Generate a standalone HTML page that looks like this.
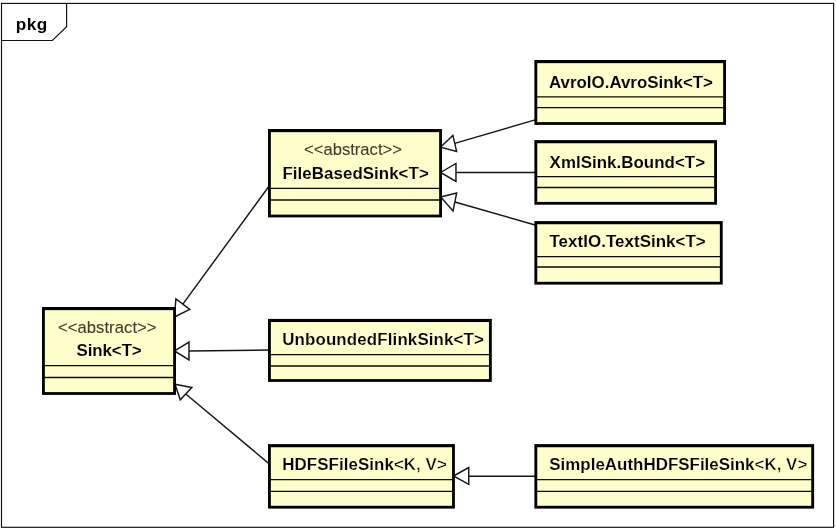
<!DOCTYPE html>
<html>
<head>
<meta charset="utf-8">
<title>pkg</title>
<style>
html,body{margin:0;padding:0;background:#fff;}
svg{display:block;will-change:transform;}
text{font-family:"Liberation Sans",sans-serif;}
.n{font-weight:bold;font-size:16.9px;fill:#000;}
.y{stroke:#ffffcc;stroke-width:0.08px;}
.t{stroke:#ffffcc;stroke-width:0.15px;}
.k{stroke:#ffffcc;stroke-width:0.4px;}
.s{font-weight:normal;font-size:16.6px;fill:#3e3e2a;stroke:#3e3e2a;stroke-width:0.1px;}
.bo{fill:#000;}
.bi{fill:#ffffcc;}
.sep{stroke:#0a0a00;stroke-width:1.3;}
.ln{stroke:#161616;stroke-width:1.45;fill:none;}
.tri{stroke:#161616;stroke-width:1.45;fill:#fff;stroke-linejoin:miter;}
.fr{stroke:#111;stroke-width:1.15;fill:none;}
</style>
</head>
<body>
<svg width="836" height="532" viewBox="0 0 836 532">
<rect x="0" y="0" width="836" height="532" fill="#fff"/>
<!-- diagram frame -->
<rect class="fr" x="1.5" y="3.4" width="832.1" height="523.9"/>
<path class="fr" d="M1.5 40.5 H52.4 L66.6 26.7 V3.4"/>
<text class="n" x="15.7" y="30" style="font-size:17.2px;letter-spacing:0.45px">pkg</text>
<!-- generalization connectors -->
<line class="ln" x1="182.85" y1="304.18" x2="269.5" y2="185.5"/>
<polygon class="tri" points="174.4,317 175.89,298.94 189.8,309.42"/>
<line class="ln" x1="188.98" y1="350.95" x2="269.5" y2="350"/>
<polygon class="tri" points="174.5,350.9 188.98,342.02 188.98,359.88"/>
<line class="ln" x1="186.1" y1="394.2" x2="269.5" y2="464.1"/>
<polygon class="tri" points="175,384.3 191.84,387.53 180.27,399.82"/>
<line class="ln" x1="454.76" y1="143.38" x2="536" y2="119.6"/>
<polygon class="tri" points="440.4,147.2 452.9,135.37 456.62,151.39"/>
<line class="ln" x1="455.96" y1="172.4" x2="536" y2="172.4"/>
<polygon class="tri" points="440.6,172.5 455.97,163.42 455.96,181.39"/>
<line class="ln" x1="454.84" y1="202.03" x2="536" y2="225.3"/>
<polygon class="tri" points="440.7,197 456.64,193.03 453.03,211.02"/>
<line class="ln" x1="468.8" y1="476.2" x2="536" y2="476.2"/>
<polygon class="tri" points="453.5,476 468.75,467.51 468.75,484.39"/>
<!-- classes -->
<g>
<rect class="bo" x="42" y="307" width="134" height="87.9"/>
<rect class="bi" x="44.85" y="310.15" width="128.3" height="81.95"/>
<line class="sep" x1="44.6" y1="365.7" x2="173.4" y2="365.7"/>
<line class="sep" x1="44.6" y1="377.5" x2="173.4" y2="377.5"/>
<text class="s" x="57.9" y="333" style="letter-spacing:0.08px">&lt;&lt;abstract&gt;&gt;</text>
<text class="n y" x="76.6" y="356" style="letter-spacing:-0.1px">Sink&lt;T&gt;</text>
</g>
<g>
<rect class="bo" x="268" y="129" width="174" height="88.4"/>
<rect class="bi" x="270.85" y="132.15" width="168.3" height="82.45"/>
<line class="sep" x1="270.6" y1="188.4" x2="439.4" y2="188.4"/>
<line class="sep" x1="270.6" y1="200" x2="439.4" y2="200"/>
<text class="s" x="304.1" y="155">&lt;&lt;abstract&gt;&gt;</text>
<text class="n y" x="282.5" y="179" style="letter-spacing:0.05px">FileBasedSink&lt;T&gt;</text>
</g>
<g>
<rect class="bo" x="534.4" y="60" width="191.6" height="64.9"/>
<rect class="bi" x="537.25" y="63.15" width="185.9" height="58.95"/>
<line class="sep" x1="537" y1="96.8" x2="723.4" y2="96.8"/>
<line class="sep" x1="537" y1="107.6" x2="723.4" y2="107.6"/>
<text class="n y" x="549" y="88">AvroIO.AvroSink&lt;T&gt;</text>
</g>
<g>
<rect class="bo" x="534.4" y="140.1" width="182.6" height="64.6"/>
<rect class="bi" x="537.25" y="143.25" width="176.9" height="58.65"/>
<line class="sep" x1="537" y1="176.7" x2="714.4" y2="176.7"/>
<line class="sep" x1="537" y1="187.5" x2="714.4" y2="187.5"/>
<text class="n y" x="549.6" y="168" style="letter-spacing:0.04px">XmlSink.Bound&lt;T&gt;</text>
</g>
<g>
<rect class="bo" x="534.4" y="221.1" width="188.3" height="63.5"/>
<rect class="bi" x="537.25" y="224.25" width="182.6" height="57.55"/>
<line class="sep" x1="537" y1="256.6" x2="720.1" y2="256.6"/>
<line class="sep" x1="537" y1="267" x2="720.1" y2="267"/>
<text class="n y" x="549.5" y="247" style="letter-spacing:0.06px">TextIO.TextSink&lt;T&gt;</text>
</g>
<g>
<rect class="bo" x="268" y="318.9" width="223.8" height="63"/>
<rect class="bi" x="270.85" y="322.05" width="218.1" height="57.05"/>
<line class="sep" x1="270.6" y1="354.6" x2="489.2" y2="354.6"/>
<line class="sep" x1="270.6" y1="366" x2="489.2" y2="366"/>
<text class="n t" x="282.2" y="345" style="letter-spacing:0.14px">UnboundedFlinkSink&lt;T&gt;</text>
</g>
<g>
<rect class="bo" x="268" y="444.1" width="186.9" height="64.5"/>
<rect class="bi" x="270.85" y="447.25" width="181.2" height="58.55"/>
<line class="sep" x1="270.6" y1="479.6" x2="452.3" y2="479.6"/>
<line class="sep" x1="270.6" y1="491.3" x2="452.3" y2="491.3"/>
<text class="n t" x="282.3" y="470" style="letter-spacing:0.07px">HDFSFileSink<tspan class="k">&lt;K, V&gt;</tspan></text>
</g>
<g>
<rect class="bo" x="534.4" y="444.1" width="279.7" height="64.5"/>
<rect class="bi" x="537.25" y="447.25" width="274" height="58.55"/>
<line class="sep" x1="537" y1="479.6" x2="811.5" y2="479.6"/>
<line class="sep" x1="537" y1="491.3" x2="811.5" y2="491.3"/>
<text class="n t" x="549.3" y="470" style="letter-spacing:0.03px">SimpleAuthHDFSFileSink<tspan class="k">&lt;K, V&gt;</tspan></text>
</g>
</svg>
</body>
</html>
